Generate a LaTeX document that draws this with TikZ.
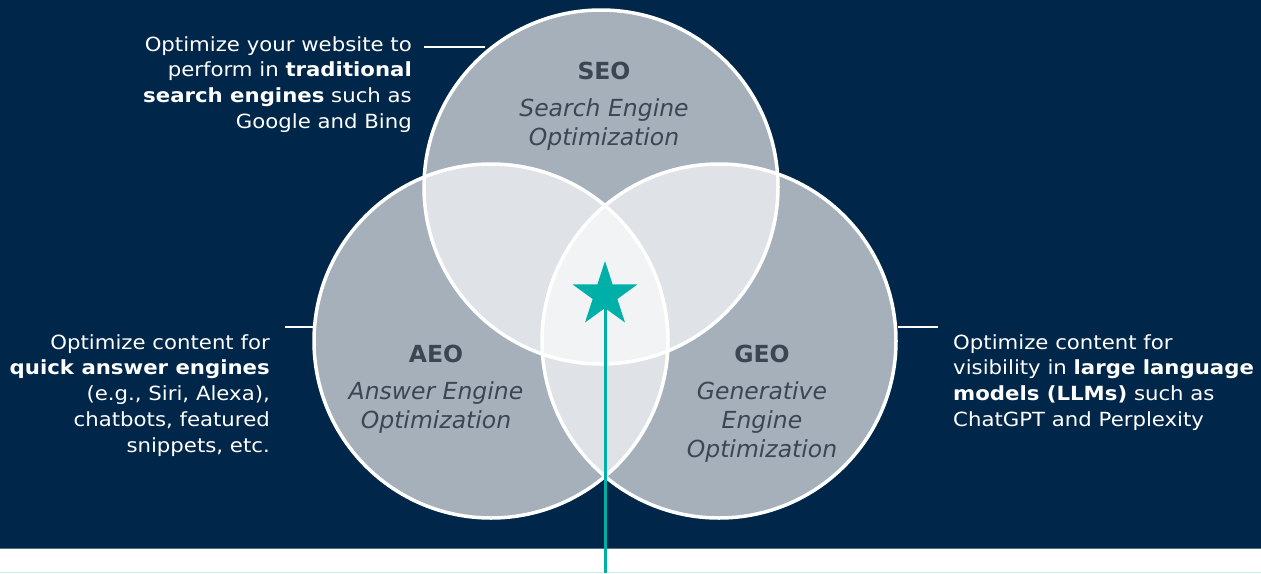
\documentclass[tikz,border=0pt]{standalone}
\usepackage{fontspec}
\setmainfont{DejaVu Sans}
\newfontfamily\descfont[FakeStretch=1.09]{DejaVu Sans}
\usetikzlibrary{shapes.geometric}
\definecolor{navy}{HTML}{00274A}
\definecolor{circbase}{HTML}{A5B0BB}
\definecolor{pairfill}{HTML}{DFE2E6}
\definecolor{triplefill}{HTML}{F2F3F5}
\definecolor{lbltext}{HTML}{3B4652}
\definecolor{starteal}{HTML}{00B0A8}
\definecolor{stripline}{HTML}{5A7080}
\definecolor{bottomline}{HTML}{D4F1F1}
\begin{document}
\begin{tikzpicture}[x=1pt,y=-1pt,
  outline/.style={draw=white,line width=3.5pt},
  leader/.style={draw=white,line width=2pt},
  desc/.style={text=white,inner sep=0pt,font=\descfont\fontsize{19.5pt}{25.8pt}\selectfont},
  circlbl/.style={text=lbltext,inner sep=0pt,align=center,font=\fontsize{23.5pt}{29pt}\selectfont}]
\useasboundingbox (0,0) rectangle (1261,573);
\fill[navy] (0,0) rectangle (1261,548);
\fill[white] (0,549) rectangle (1261,573);
\draw[stripline,line width=1pt] (0,548.5) -- (1261,548.5);
\draw[bottomline,line width=1pt] (0,572.5) -- (1261,572.5);
\def\cSEO{(601,187) circle (177pt)}
\def\cAEO{(491,341) circle (177pt)}
\def\cGEO{(719,341) circle (177pt)}
\fill[circbase] \cSEO;
\fill[circbase] \cAEO;
\fill[circbase] \cGEO;
\begin{scope}\clip \cSEO; \fill[pairfill] \cAEO; \fill[pairfill] \cGEO; \end{scope}
\begin{scope}\clip \cAEO; \fill[pairfill] \cGEO; \end{scope}
\begin{scope}\clip \cSEO; \clip \cAEO; \fill[triplefill] \cGEO; \end{scope}
\draw[outline] \cSEO;
\draw[outline] \cAEO;
\draw[outline] \cGEO;
% labels in circles
\node[circlbl,anchor=north] (seo) at (604,62) {\textbf{SEO}\\[8pt]\textit{Search Engine}\\\textit{Optimization}};
\node[circlbl,anchor=north] (aeo) at (436,345) {\textbf{AEO}\\[8pt]\textit{Answer Engine}\\\textit{Optimization}};
\node[circlbl,anchor=north] (geo) at (762,345) {\textbf{GEO}\\[8pt]\textit{Generative}\\\textit{Engine}\\\textit{Optimization}};
% star and line
\coordinate (lineend) at (605,573);
\node[star,star points=5,star point ratio=2.618,fill=starteal,minimum size=68pt,inner sep=0pt] (star) at (605,295) {};
\draw[starteal,line width=3pt] (star.center) -- (lineend);
% descriptions
\node[desc,align=right,anchor=north east] (seodesc) at (412,36) {Optimize your website to\\perform in \textbf{traditional}\\\textbf{search engines} such as\\Google and Bing};
\node[desc,align=right,anchor=north east] (aeodesc) at (270,334) {Optimize content for\\\textbf{quick answer engines}\\(e.g., Siri, Alexa),\\chatbots, featured\\snippets, etc.};
\node[desc,align=left,anchor=north west] (geodesc) at (953,334) {Optimize content for\\visibility in \textbf{large language}\\\textbf{models (LLMs)} such as\\ChatGPT and Perplexity};
% leaders
\coordinate (seoL1) at (424,47); \coordinate (seoL2) at (485,47);
\coordinate (aeoL1) at (285,327); \coordinate (aeoL2) at (316,327);
\coordinate (geoL1) at (898,327); \coordinate (geoL2) at (938,327);
\draw[leader] (seoL1) -- (seoL2);
\draw[leader] (aeoL1) -- (aeoL2);
\draw[leader] (geoL1) -- (geoL2);
\end{tikzpicture}
\end{document}
